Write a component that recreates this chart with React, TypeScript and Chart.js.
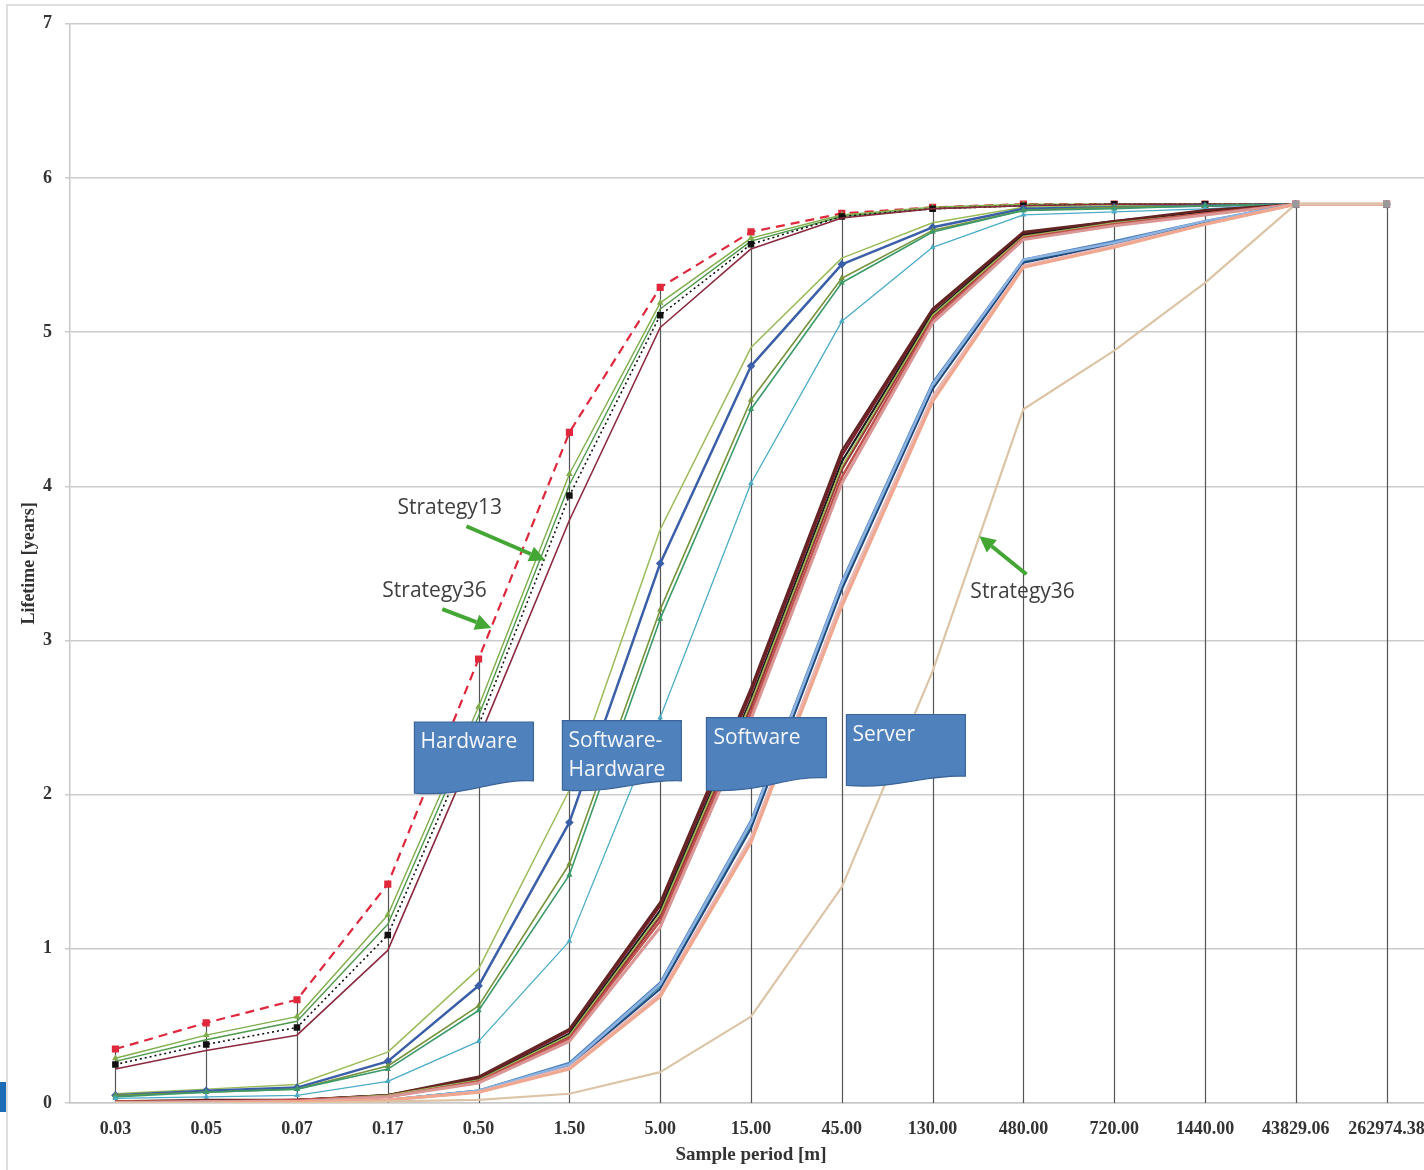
import React, { useEffect, useRef } from 'react';
import { Chart, registerables } from 'chart.js';

Chart.register(...registerables);

// ---------- data ----------
const categories = ['0.03', '0.05', '0.07', '0.17', '0.50', '1.50', '5.00', '15.00', '45.00', '130.00', '480.00', '720.00', '1440.00', '43829.06', '262974.38'];
const yTickValues = [0, 1, 2, 3, 4, 5, 6, 7];

// Hardware group
const hwRedDashed = [0.35, 0.52, 0.67, 1.42, 2.88, 4.35, 5.29, 5.65, 5.77, 5.81, 5.83, 5.83, 5.83, 5.83, 5.83];
const hwGreen1 = [0.29, 0.44, 0.56, 1.22, 2.57, 4.08, 5.19, 5.61, 5.76, 5.81, 5.83, 5.83, 5.83, 5.83, 5.83];
const hwGreen2 = [0.27, 0.41, 0.53, 1.16, 2.51, 4.01, 5.15, 5.59, 5.75, 5.80, 5.82, 5.83, 5.83, 5.83, 5.83];
const hwBlackDotted = [0.25, 0.38, 0.49, 1.09, 2.45, 3.94, 5.11, 5.57, 5.75, 5.80, 5.82, 5.83, 5.83, 5.83, 5.83];
const hwMaroon = [0.22, 0.34, 0.44, 0.99, 2.36, 3.78, 5.03, 5.54, 5.74, 5.80, 5.82, 5.83, 5.83, 5.83, 5.83];

// Software-Hardware group
const swhwOlive = [0.06, 0.09, 0.12, 0.33, 0.87, 2.03, 3.72, 4.90, 5.48, 5.71, 5.81, 5.82, 5.82, 5.83, 5.83];
const swhwBlue = [0.05, 0.08, 0.10, 0.27, 0.76, 1.82, 3.50, 4.78, 5.44, 5.68, 5.80, 5.81, 5.82, 5.83, 5.83];
const swhwGreen1 = [0.05, 0.07, 0.09, 0.24, 0.63, 1.55, 3.20, 4.56, 5.35, 5.66, 5.79, 5.81, 5.82, 5.83, 5.83];
const swhwGreen2 = [0.04, 0.07, 0.09, 0.22, 0.60, 1.48, 3.14, 4.50, 5.32, 5.65, 5.79, 5.80, 5.82, 5.83, 5.83];
const swhwCyan = [0.03, 0.04, 0.05, 0.14, 0.40, 1.05, 2.50, 4.02, 5.07, 5.55, 5.76, 5.78, 5.80, 5.83, 5.83];

// Software group
const sw1 = [0.01, 0.01, 0.02, 0.05, 0.16, 0.47, 1.28, 2.66, 4.20, 5.14, 5.64, 5.72, 5.78, 5.83, 5.83];
const sw2 = [0.01, 0.01, 0.02, 0.05, 0.15, 0.45, 1.25, 2.62, 4.16, 5.12, 5.63, 5.71, 5.78, 5.83, 5.83];
const sw3 = [0.01, 0.01, 0.02, 0.04, 0.14, 0.43, 1.21, 2.57, 4.11, 5.10, 5.62, 5.70, 5.77, 5.83, 5.83];
const sw4 = [0.01, 0.01, 0.02, 0.04, 0.14, 0.42, 1.18, 2.53, 4.06, 5.08, 5.61, 5.70, 5.77, 5.83, 5.83];
const sw5 = [0.00, 0.01, 0.01, 0.04, 0.13, 0.40, 1.14, 2.49, 4.02, 5.06, 5.60, 5.69, 5.76, 5.83, 5.83];
const sw6 = [0.01, 0.02, 0.02, 0.05, 0.17, 0.48, 1.30, 2.69, 4.23, 5.15, 5.65, 5.72, 5.79, 5.83, 5.83];
const sw7 = [0.01, 0.01, 0.02, 0.05, 0.15, 0.44, 1.23, 2.60, 4.13, 5.11, 5.62, 5.71, 5.77, 5.83, 5.83];

// Server group
const sv1 = [0.00, 0.00, 0.01, 0.02, 0.08, 0.26, 0.78, 1.83, 3.38, 4.67, 5.47, 5.59, 5.72, 5.83, 5.83];
const sv2 = [0.00, 0.00, 0.01, 0.02, 0.08, 0.25, 0.76, 1.81, 3.36, 4.66, 5.46, 5.58, 5.71, 5.83, 5.83];
const sv3 = [0.00, 0.00, 0.01, 0.02, 0.07, 0.24, 0.74, 1.78, 3.33, 4.63, 5.45, 5.57, 5.71, 5.83, 5.83];
const sv4 = [0.00, 0.00, 0.01, 0.02, 0.07, 0.23, 0.71, 1.72, 3.26, 4.58, 5.43, 5.56, 5.70, 5.83, 5.83];
const sv5 = [0.00, 0.00, 0.01, 0.02, 0.07, 0.22, 0.69, 1.69, 3.22, 4.55, 5.42, 5.55, 5.70, 5.83, 5.83];
const sv6 = [0.00, 0.00, 0.01, 0.02, 0.08, 0.25, 0.77, 1.82, 3.37, 4.66, 5.47, 5.58, 5.72, 5.83, 5.83];

// Strategy36 (tan, slowest)
const tanStrategy36 = [0.00, 0.00, 0.00, 0.01, 0.02, 0.06, 0.20, 0.56, 1.40, 2.80, 4.50, 4.88, 5.32, 5.83, 5.83];

// ---------- annotations (in data coordinates: category index, value) ----------
const calloutBoxes = [
  { lines: ['Hardware'], l: 3.293, r: 4.604, top: 2.47, bL: 2.01, bR: 2.09, tx: 3.36, ty: [2.343] },
  { lines: ['Software-', 'Hardware'], l: 4.923, r: 6.233, top: 2.48, bL: 2.03, bR: 2.09, tx: 4.99, ty: [2.35, 2.162] },
  { lines: ['Software'], l: 6.509, r: 7.83, top: 2.50, bL: 2.03, bR: 2.11, tx: 6.586, ty: [2.369] },
  { lines: ['Server'], l: 8.051, r: 9.361, top: 2.52, bL: 2.06, bR: 2.12, tx: 8.117, ty: [2.388] },
];
const textNotes = [
  { text: 'Strategy13', x: 3.106, y: 3.857 },
  { text: 'Strategy36', x: 2.94, y: 3.32 },
  { text: 'Strategy36', x: 9.416, y: 3.314 },
];
const arrows = [
  { x1: 3.866, y1: 3.741, x2: 4.736, y2: 3.52 },
  { x1: 3.60, y1: 3.204, x2: 4.14, y2: 3.081 },
  { x1: 10.033, y1: 3.43, x2: 9.515, y2: 3.676 },
];

function line(label: string, data: number[], color: string, extra: any = {}) {
  return {
    label,
    data,
    borderColor: color,
    backgroundColor: color,
    borderWidth: 1.5,
    pointRadius: 0,
    tension: 0,
    fill: false,
    ...extra,
  };
}

const annotationPlugin = {
  id: 'annos',
  beforeDatasetsDraw(chart: any) {
    const { ctx, scales } = chart;
    const x = scales.x, y = scales.y;
    ctx.save();
    ctx.strokeStyle = '#555555';
    ctx.lineWidth = 1.2;
    for (let i = 0; i < categories.length; i++) {
      let mx = 0;
      chart.data.datasets.forEach((ds: any) => { if (ds.data[i] > mx) mx = ds.data[i]; });
      const px = Math.round(x.getPixelForValue(i)) + 0.5;
      ctx.beginPath();
      ctx.moveTo(px, y.getPixelForValue(mx));
      ctx.lineTo(px, y.getPixelForValue(0));
      ctx.stroke();
    }
    ctx.restore();
  },
  afterDatasetsDraw(chart: any) {
    const { ctx, scales } = chart;
    const xs = scales.x, ys = scales.y;
    const x0 = xs.getPixelForValue(0);
    const step = xs.getPixelForValue(1) - x0;
    const px = (f: number) => x0 + f * step;
    const py = (v: number) => ys.getPixelForValue(v);
    ctx.save();
    // callout boxes
    calloutBoxes.forEach((b) => {
      const l = px(b.l), r = px(b.r), t = py(b.top), bl = py(b.bL), br = py(b.bR);
      const w = r - l;
      ctx.beginPath();
      ctx.moveTo(l, t);
      ctx.lineTo(r, t);
      ctx.lineTo(r, br);
      ctx.bezierCurveTo(r - w * 0.35, br - 2, l + w * 0.45, bl + 4, l, bl);
      ctx.closePath();
      ctx.fillStyle = '#4f81bd';
      ctx.fill();
      ctx.strokeStyle = '#3b659a';
      ctx.lineWidth = 1.2;
      ctx.stroke();
      ctx.fillStyle = '#f4f6fa';
      ctx.font = '21px "Open Sans"';
      ctx.textAlign = 'left';
      ctx.textBaseline = 'middle';
      b.lines.forEach((s, k) => ctx.fillText(s, px(b.tx), py(b.ty[k])));
    });
    // notes
    ctx.fillStyle = '#3f3f3f';
    ctx.font = '21px "Open Sans"';
    ctx.textAlign = 'left';
    ctx.textBaseline = 'middle';
    textNotes.forEach((n) => ctx.fillText(n.text, px(n.x), py(n.y)));
    // arrows
    arrows.forEach((a) => {
      const X1 = px(a.x1), Y1 = py(a.y1), X2 = px(a.x2), Y2 = py(a.y2);
      const ang = Math.atan2(Y2 - Y1, X2 - X1);
      const head = 16, hw = 8;
      const bx = X2 - head * Math.cos(ang), by = Y2 - head * Math.sin(ang);
      ctx.strokeStyle = '#44a634';
      ctx.fillStyle = '#44a634';
      ctx.lineWidth = 4;
      ctx.lineCap = 'butt';
      ctx.beginPath();
      ctx.moveTo(X1, Y1);
      ctx.lineTo(bx, by);
      ctx.stroke();
      ctx.beginPath();
      ctx.moveTo(X2, Y2);
      ctx.lineTo(bx + hw * Math.sin(ang), by - hw * Math.cos(ang));
      ctx.lineTo(bx - hw * Math.sin(ang), by + hw * Math.cos(ang));
      ctx.closePath();
      ctx.fill();
    });
    ctx.restore();
  },
};

export default function App() {
  const ref = useRef<HTMLCanvasElement>(null);

  useEffect(() => {
    const tanRadius = tanStrategy36.map((_, i) => (i >= categories.length - 2 ? 3.5 : 0));
    const datasets: any[] = [
      line('Strategy36 (server)', tanStrategy36, '#dcc4a6', { borderWidth: 2.2, pointRadius: tanRadius, pointStyle: 'rect', pointBackgroundColor: '#9a9a9a', pointBorderColor: '#9a9a9a' }),
      line('Server 5', sv5, '#f0a78e', { borderWidth: 3 }),
      line('Server 4', sv4, '#e6b9b8', { borderWidth: 3 }),
      line('Server 6', sv6, '#8db3e2', { borderWidth: 2.5 }),
      line('Server 3', sv3, '#1f497d', { borderWidth: 2 }),
      line('Server 2', sv2, '#31859c', { borderWidth: 2.5 }),
      line('Server 1', sv1, '#4f81bd', { borderWidth: 2.5 }),
      line('Software 5', sw5, '#d99694', { borderWidth: 3 }),
      line('Software 4', sw4, '#c0504d', { borderWidth: 2.5 }),
      line('Software 7', sw7, '#9bbb59', { borderWidth: 1.5 }),
      line('Software 3', sw3, '#953735', { borderWidth: 2.5 }),
      line('Software 6', sw6, '#632423', { borderWidth: 2.5 }),
      line('Software 2', sw2, '#1a1a1a', { borderWidth: 2 }),
      line('Software 1', sw1, '#7a1e2c', { borderWidth: 2.5 }),
      line('SW-HW cyan', swhwCyan, '#4bacc6', { borderWidth: 1.3, pointRadius: 2, pointStyle: 'triangle' }),
      line('SW-HW green 2', swhwGreen2, '#3c9a6a', { borderWidth: 1.6, pointRadius: 2, pointStyle: 'triangle' }),
      line('SW-HW green 1', swhwGreen1, '#77933c', { borderWidth: 1.6, pointRadius: 2, pointStyle: 'triangle' }),
      line('SW-HW blue', swhwBlue, '#3a5fa8', { borderWidth: 2.5, pointRadius: 2.5, pointStyle: 'rectRot' }),
      line('SW-HW olive', swhwOlive, '#9bbb59', { borderWidth: 1.5 }),
      line('HW maroon', hwMaroon, '#8b2a3e', { borderWidth: 1.6 }),
      line('HW black dotted', hwBlackDotted, '#111111', { borderWidth: 1.6, borderDash: [2, 3], pointRadius: 3.5, pointStyle: 'rect' }),
      line('HW green 2', hwGreen2, '#4e9a4a', { borderWidth: 1.4 }),
      line('HW green 1', hwGreen1, '#7fae4a', { borderWidth: 1.4, pointRadius: 2.5, pointStyle: 'triangle' }),
      line('Strategy36 (hardware)', hwRedDashed, '#e0283c', { borderWidth: 2.2, borderDash: [9, 6], pointRadius: 3.5, pointStyle: 'rect' }),
    ];

    const chart = new Chart(ref.current as HTMLCanvasElement, {
      type: 'line',
      data: { labels: categories, datasets },
      options: {
        responsive: false,
        animation: false,
        devicePixelRatio: 1,
        layout: { padding: { top: 21, right: 8, bottom: 0, left: 0 } },
        plugins: { legend: { display: false }, tooltip: { enabled: false } },
        elements: { line: { borderJoinStyle: 'round' } },
        scales: {
          x: {
            type: 'category',
            offset: true,
            grid: { display: false },
            border: { display: true, color: '#c8c8c8', width: 1.5 },
            ticks: {
              color: '#333333',
              font: { family: '"Liberation Serif"', size: 18, weight: 'bold' },
              padding: 8,
              maxRotation: 0,
              autoSkip: false,
            },
            title: {
              display: true,
              text: 'Sample period [m]',
              color: '#333333',
              font: { family: '"Liberation Serif"', size: 19, weight: 'bold' },
              padding: { top: 0, bottom: 4 },
            },
            afterFit: (s: any) => { s.height = 67; },
          },
          y: {
            min: 0,
            max: 7,
            afterBuildTicks: (s: any) => { s.ticks = yTickValues.map((v) => ({ value: v })); },
            grid: { color: '#cccccc', lineWidth: 1.5, tickLength: 5 },
            border: { display: true, color: '#c8c8c8', width: 1.5 },
            ticks: {
              color: '#333333',
              font: { family: '"Liberation Serif"', size: 18, weight: 'bold' },
              padding: 13,
            },
            title: {
              display: true,
              text: 'Lifetime [years]',
              color: '#333333',
              font: { family: '"Liberation Serif"', size: 18, weight: 'bold' },
              padding: { top: 19, bottom: 0 },
            },
            afterFit: (s: any) => { s.width = 70; },
          },
        },
      } as any,
      plugins: [annotationPlugin],
    });
    return () => chart.destroy();
  }, []);

  return (
    <div style={{ position: 'absolute', left: 0, top: 0, width: 1424, height: 1170, overflow: 'hidden', background: '#ffffff' }}>
      <div style={{ position: 'absolute', left: 6, top: 4, width: 1440, height: 1200, borderLeft: '2px solid #dedede', borderTop: '2px solid #dedede' }} />
      <div style={{ position: 'absolute', left: 0, top: 1082, width: 6, height: 30, background: '#1b6db5' }} />
      <div style={{ position: 'absolute', left: 0, top: 0, width: 1440, height: 1170 }}>
        <canvas ref={ref} width={1440} height={1170} />
      </div>
    </div>
  );
}
